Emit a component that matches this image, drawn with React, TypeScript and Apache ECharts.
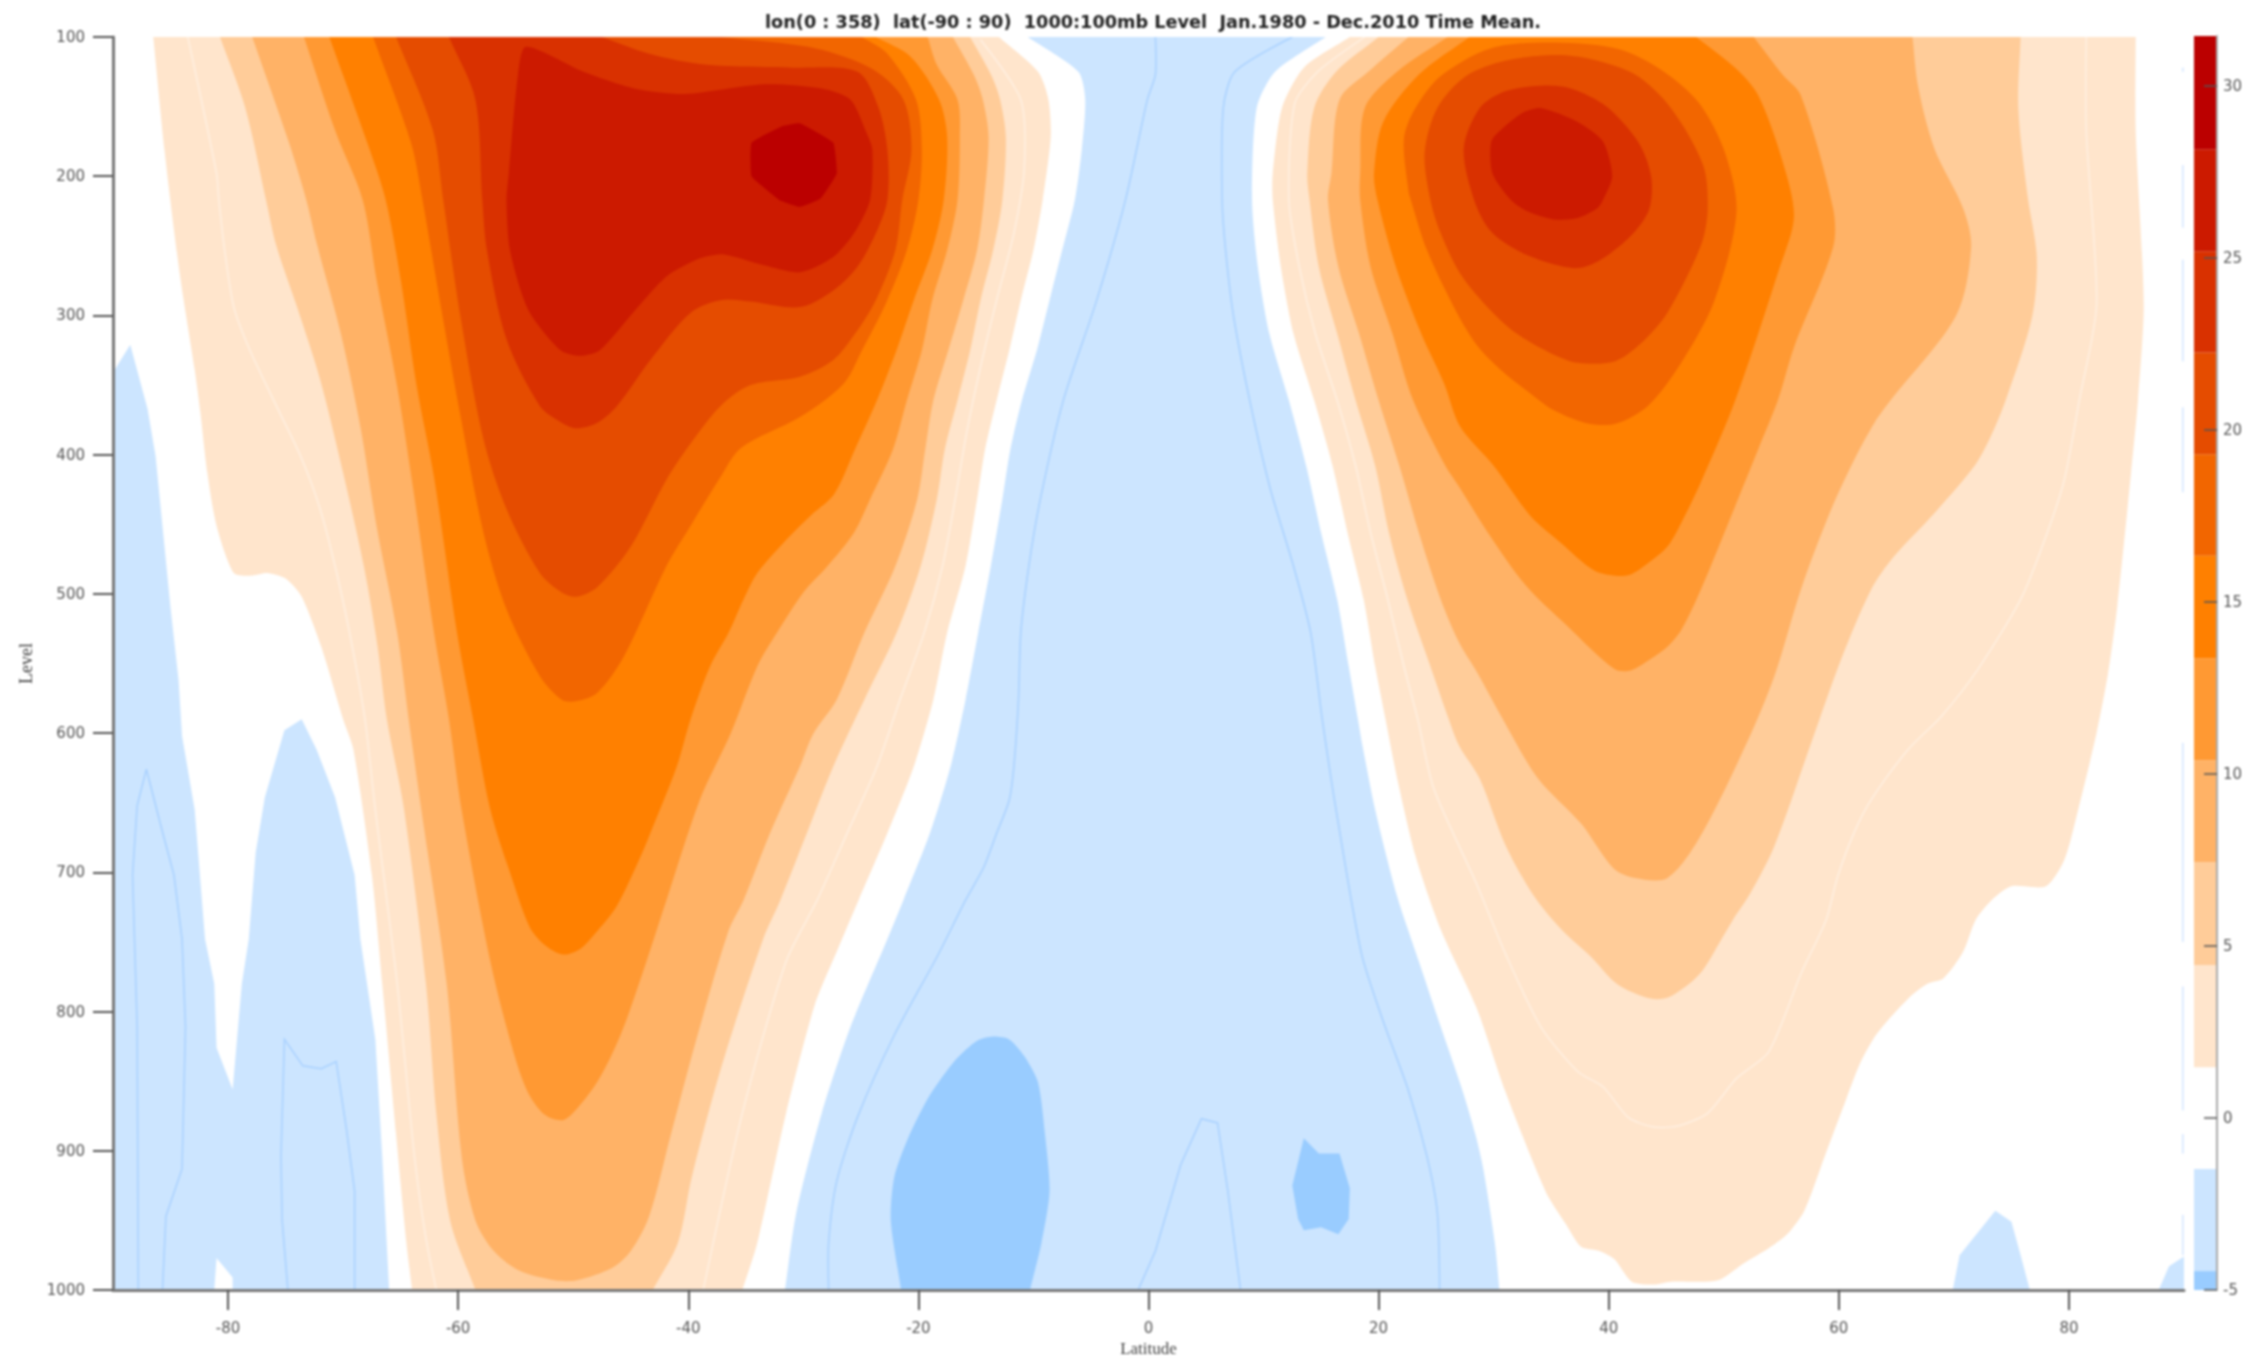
import React, { useEffect, useRef } from "react";
import * as echarts from "echarts";

type P = [number, number];

const titleText = "lon(0 : 358)  lat(-90 : 90)  1000:100mb Level  Jan.1980 - Dec.2010 Time Mean.";
const latTicks = [-80, -60, -40, -20, 0, 20, 40, 60, 80];
const levelTicks = [100, 200, 300, 400, 500, 600, 700, 800, 900, 1000];
const barTicks = [-5, 0, 5, 10, 15, 20, 25, 30];

// colour-bar classes: [lower, upper, colour]
const barBands: [number, number, string][] = [
  [-5, -4.45, "#99CCFF"], [-4.45, -1.48, "#CCE5FF"], [-1.48, 1.48, "#FFFFFF"], [1.48, 4.45, "#FFE5CC"],
  [4.45, 7.44, "#FFCC99"], [7.44, 10.4, "#FFB266"], [10.4, 13.37, "#FF9933"], [13.37, 16.35, "#FF8000"],
  [16.35, 19.3, "#F26600"], [19.3, 22.26, "#E54C00"], [22.26, 25.2, "#D93100"], [25.2, 28.17, "#CC1A00"],
  [28.17, 31.46, "#BB0000"],
];

// Contours: [latitude, level]
const s1: P[] = [[-86.5,100],[-85.5,183],[-84.2,270],[-82.9,339],[-82.4,370],[-81.8,413],[-81,451],[-79.5,485],[-78.1,487],[-76.6,485],[-75,489],[-73.6,502],[-71.9,538],[-70,590],[-69.1,612],[-67.5,702],[-66.6,780],[-65.4,888],[-64.5,966],[-64,1000],[-35.3,1000],[-34,966],[-31.5,873],[-29,795],[-27,755],[-25.2,720],[-22.7,672],[-20.4,624],[-18.7,576],[-17.5,528],[-15.9,480],[-14.9,432],[-14.2,396],[-13.2,361],[-12.1,325],[-11.1,289],[-10,253],[-9.2,217],[-8.5,172],[-8.7,145],[-9.6,125],[-13,100]];
const s4: P[] = [[-80.7,100],[-78.5,151],[-76.7,217],[-75.8,250],[-74,294],[-72,346],[-70,413],[-68.2,480],[-67,538],[-66.2,590],[-64.7,655],[-62.8,780],[-61.9,873],[-60.7,950],[-58.5,1000],[-43.1,1000],[-40.9,966],[-39.7,919],[-37.2,842],[-33.5,748],[-32,720],[-29.7,672],[-27.4,624],[-24.7,576],[-21.9,528],[-19.8,480],[-18.4,432],[-17.7,396],[-16.6,361],[-15.5,325],[-14.6,289],[-13.5,253],[-12.7,217],[-12.4,172],[-12.9,145],[-13.7,127],[-15.5,100]];
const s7: P[] = [[-77.9,100],[-74.7,176],[-73.2,217],[-72.3,248],[-70.2,313],[-68.5,380],[-67.1,451],[-65.3,528],[-64.3,590],[-63.2,655],[-61,780],[-59.7,904],[-58.5,950],[-56.9,972],[-54.7,986],[-51.6,993],[-49.7,993],[-46.6,984],[-45,972],[-43.4,947],[-41.5,888],[-39.3,820],[-36.5,742],[-35.2,720],[-32.9,672],[-30.3,624],[-29.1,600],[-27.1,576],[-24.7,528],[-22,480],[-20.1,432],[-19.4,396],[-18.7,361],[-17.4,325],[-16.1,289],[-14.9,253],[-14.3,217],[-13.9,172],[-14.4,145],[-15.2,127],[-17,100]];
const s10: P[] = [[-73.4,100],[-70.7,167],[-68.3,217],[-67.1,274],[-65.3,351],[-63.9,425],[-62.1,528],[-60.8,590],[-59.7,655],[-57.2,764],[-55.3,826],[-54,857],[-52.5,874],[-50.9,878],[-49.7,870],[-47.8,849],[-45.9,817],[-44,773],[-41.9,720],[-39,648],[-36.3,600],[-34,552],[-32.3,528],[-30,499],[-27.9,480],[-25.6,456],[-24.2,432],[-22.2,396],[-21,361],[-19.7,325],[-18.8,289],[-17.5,253],[-16.6,217],[-16.4,172],[-16.6,145],[-18.4,120],[-19.2,100]];
const s13: P[] = [[-71.2,100],[-67.9,176],[-66.3,217],[-65,274],[-63.6,351],[-62.1,416],[-60.1,528],[-58.7,590],[-57.2,655],[-55.3,705],[-53.8,739],[-52.5,752],[-50.9,759],[-49.4,755],[-48.1,744],[-46.2,724],[-44,686],[-43.3,672],[-41,624],[-39.8,590],[-38.1,552],[-36.5,528],[-35.2,504],[-34,485],[-31.7,463],[-29.4,444],[-27.3,428],[-25.5,396],[-23.6,361],[-21.9,325],[-20.4,289],[-18.8,253],[-17.8,217],[-17.5,172],[-18.2,145],[-20.7,114],[-23.7,100]];
const s16: P[] = [[-67.4,100],[-64.1,176],[-63.1,217],[-61.6,289],[-59.8,372],[-57.8,456],[-55.8,511],[-52.9,559],[-51,576],[-49.7,577],[-47.9,571],[-45.6,545],[-41.9,480],[-39.8,451],[-37.2,416],[-35.4,395],[-30.3,373],[-26.5,349],[-24.9,325],[-22.7,289],[-21,253],[-20,217],[-19.7,181],[-20.2,145],[-22.7,112],[-24.9,100]];
const s19: P[] = [[-65.4,100],[-62.2,167],[-61.3,217],[-59.8,301],[-57.8,389],[-55.8,439],[-52.9,485],[-51,499],[-49.7,502],[-47.9,495],[-45,466],[-41.9,418],[-39.8,392],[-37.2,365],[-34.6,350],[-30.3,344],[-27.4,332],[-25.5,313],[-23.7,289],[-22,253],[-21.4,217],[-20.6,181],[-21.3,145],[-24,123],[-29,108],[-37.2,100]];
const s22: P[] = [[-60.8,100],[-58.5,145],[-57.9,217],[-57.5,253],[-55.8,317],[-52.9,365],[-51,377],[-49.7,381],[-47.9,377],[-46.2,365],[-43.3,332],[-39.8,298],[-37.2,289],[-34.6,290],[-30.3,294],[-27.4,282],[-25.3,265],[-23.7,241],[-22.7,217],[-22.7,181],[-23.5,150],[-25.3,125],[-30.9,122],[-38.4,120],[-43.4,112],[-47.5,100]];
const s25: P[] = [[-54.1,107],[-54.8,127],[-55.6,198],[-55.8,217],[-55.5,253],[-53.9,296],[-51.1,325],[-49.4,329],[-47.7,325],[-44.8,298],[-41.9,272],[-39,259],[-37.2,256],[-35.9,258],[-33.4,264],[-30.3,269],[-27.4,258],[-25.6,241],[-24.2,217],[-24,181],[-24.5,169],[-25.9,145],[-28.4,137],[-33.4,134],[-40.3,141],[-44.7,137],[-49.1,125]];
const s28: P[] = [[-34.5,176],[-34.5,200],[-32.1,217],[-30.3,222],[-28.5,216],[-27.1,198],[-27.4,176],[-30.3,162],[-31.8,164]];

const n1: P[] = [[17.5,100],[13.5,122],[11.6,151],[10.8,198],[10.8,217],[11.5,265],[12.6,313],[14.4,361],[16,408],[17.3,456],[18.7,504],[19.7,552],[20.6,590],[21.6,632],[23.2,688],[25.4,741],[28.5,797],[31,857],[34.5,929],[36.3,953],[37.6,969],[39.2,972],[40.5,978],[42,994],[43.9,996],[45.4,994],[49.5,993],[51.7,981],[53.9,970],[55.5,960],[57,943],[58.9,901],[60.5,866],[61.8,838],[63.3,816],[66.1,790],[67.7,780],[69.1,776],[70.8,757],[71.9,734],[73.4,719],[75,710],[78,710],[79.6,691],[80.8,655],[82.4,600],[83.4,557],[84.2,509],[85.4,413],[86,361],[86.5,292],[85.8,167],[85.8,100]];
const n4: P[] = [[20,100],[16.3,125],[14.4,151],[13.8,198],[14,217],[14.8,265],[16.4,313],[18,361],[19.7,408],[20.9,456],[22.5,504],[24.5,552],[26.1,590],[27,609],[28.8,633],[31,680],[33.5,717],[36,742],[38.5,761],[40.4,778],[42,786],[43.9,791],[45.4,789],[47.9,773],[49.8,748],[50.8,734],[52.3,715],[54.4,681],[57.6,607],[60.2,547],[62.8,497],[64.8,473],[68.3,442],[71.8,408],[73.2,387],[74.5,361],[76.8,301],[77.2,258],[76.4,214],[75.6,151],[75.8,100]];
const n7: P[] = [[22.6,100],[19.1,125],[16.6,145],[15.9,198],[15.6,217],[16.5,265],[18.3,313],[20,361],[21.8,408],[23.5,456],[25.4,504],[27,535],[28.6,557],[30.8,590],[33.8,632],[37.6,665],[40.4,697],[42.3,704],[45.1,704],[47.9,675],[52,607],[54.4,559],[56.7,497],[59.3,440],[61.5,401],[63.1,377],[64.5,361],[70.2,300],[71.5,251],[70.8,223],[68.3,180],[66.9,136],[66.4,100]];
const n10: P[] = [[26,100],[21.6,125],[18.8,151],[18.4,198],[18.4,217],[19.3,265],[21.2,313],[23,361],[25.8,408],[27,423],[29.5,456],[32.8,494],[36.4,523],[40.5,554],[41.9,555],[43.6,547],[45.1,538],[46.3,526],[48,497],[50.3,451],[53,396],[54.7,361],[56.1,323],[59.5,251],[59.5,223],[56.7,142],[55.1,127],[52.6,100]];
const n13: P[] = [[27.9,100],[23.5,127],[20.4,161],[19.6,198],[19.9,217],[21.5,265],[23.7,313],[25.7,349],[27.1,380],[30,408],[33.2,444],[35.8,463],[38.7,483],[40.6,487],[41.9,486],[43.4,478],[45.1,466],[46.3,449],[48,420],[51,361],[54.8,267],[56.1,229],[55.1,189],[53,142],[51.1,123],[47.6,100]];
const n16: P[] = [[22.2,173],[22.6,211],[22.8,217],[24.2,253],[26.8,298],[28.6,322],[30.6,339],[33.5,358],[35.2,368],[37.9,377],[40.5,378],[43.4,365],[46.3,334],[49.2,289],[51.1,226],[50.1,183],[47.9,148],[44.8,125],[41,109],[35.4,104],[29.8,108],[25.4,128],[23.2,151]];
const n19: P[] = [[24,183],[24.5,217],[25.4,241],[27.1,270],[29.7,296],[32,313],[35.2,328],[37.3,334],[40.5,333],[42.8,320],[45.1,298],[48,250],[48.6,224],[48.2,192],[45.4,151],[42.3,127],[38.5,116],[35.4,113],[31,117],[27.6,128],[25.1,151]];
const n22: P[] = [[27.4,180],[28.3,217],[29.7,239],[32,253],[34.7,262],[37.3,266],[39.3,260],[41.9,243],[43.5,224],[43.7,201],[42.6,176],[39.8,150],[36.7,137],[34.1,135],[31,139],[28.8,151]];
const n25: P[] = [[29.8,175],[29.9,198],[31.5,217],[32.9,225],[35.2,231],[37.3,230],[39,223],[39.5,217],[40.3,200],[39.5,175],[37.3,161],[34.1,151],[32.6,154],[31,164]];

const blueCentral: P[] = [[-10.5,100],[-6.1,125],[-5.5,145],[-5.8,181],[-6.4,217],[-7.5,253],[-8.6,289],[-9.7,325],[-11,361],[-12,396],[-12.7,432],[-13.7,480],[-14.8,528],[-15.9,576],[-17.2,624],[-19,672],[-21.3,720],[-22.7,748],[-25.9,811],[-28.4,873],[-30.6,944],[-31.6,1000],[30.5,1000],[30.1,966],[29.1,913],[28.4,888],[27.3,857],[25.4,811],[23.5,764],[21.6,717],[19.7,655],[18.6,609],[18.2,590],[17.4,552],[16.4,504],[15,456],[13.7,408],[12.2,361],[10.5,313],[9.5,265],[9,217],[9.4,151],[11,125],[15.4,100]];
const bluePolar: P[] = [[-90,341],[-88.5,321],[-87,367],[-86.3,401],[-85,510],[-84.3,562],[-84,602],[-82.9,655],[-82,748],[-81.2,780],[-81,826],[-79.6,856],[-78.8,780],[-78.2,748],[-77.6,686],[-76.8,646],[-75.1,598],[-73.6,590],[-72.3,612],[-70.7,646],[-69,702],[-68.5,748],[-67.2,820],[-66.6,904],[-66,1000],[-79.6,1000],[-79.6,991],[-81,977],[-81.2,1000],[-90,1000]];
const blueArctic: P[] = [[69.9,1000],[70.5,975],[73.6,943],[75,951],[75.8,975],[76.6,1000]];
const blueCorner: P[] = [[87.8,1000],[88.7,983],[90,976],[90,1000]];
const deepBlueSouth: P[] = [[-21.5,1000],[-22.4,950],[-22.1,919],[-20.9,891],[-19,860],[-16.8,835],[-14.9,821],[-13.5,818],[-12.1,820],[-10.8,832],[-9.6,851],[-9,888],[-8.6,929],[-9.3,966],[-10.3,1000]];
const deepBlueNorth: P[] = [[13.5,891],[14.8,902],[16.6,902],[17.5,927],[17.4,949],[16.5,960],[15,955],[13.5,957],[13,949],[12.5,925]];

// Thin contour lines
const blueLineA: P[] = [[0.6,100],[0.6,127],[-0.1,145],[-2,217],[-4.5,289],[-7.4,361],[-9.4,432],[-10.4,480],[-11.1,528],[-11.3,576],[-11.7,624],[-12.1,648],[-13.2,672],[-14.3,696],[-15.9,720],[-18.4,761],[-22.1,817],[-25.3,876],[-27.1,922],[-27.8,966],[-27.8,1000]];
const blueLineB: P[] = [[12.5,100],[7.5,125],[6.5,151],[6.4,217],[6.7,253],[7.4,301],[8.9,365],[10.6,425],[12.6,480],[14.1,528],[15.1,590],[16.3,655],[18.5,758],[20.4,807],[22.6,857],[24.2,904],[25.1,944],[25.3,1000]];
const blueLineC: P[] = [[-0.9,1000],[0.6,972],[2.8,910],[4.6,877],[6,880],[6.9,929],[8,1000]];
const blueLineD: P[] = [[-87.8,1000],[-87.9,811],[-88.3,702],[-87.9,652],[-87.1,626],[-85.7,671],[-84.7,702],[-84,748],[-83.7,811],[-84,913],[-85.4,947],[-85.7,1000]];
const blueLineE: P[] = [[-74.8,1000],[-75.3,950],[-75.4,904],[-75.1,820],[-73.5,839],[-71.9,841],[-70.6,836],[-69.7,885],[-69,929],[-69,1000]];
const paleLineA: P[] = [[-83.5,100],[-81,198],[-80.8,217],[-80.3,253],[-79.5,294],[-78.1,325],[-75.8,365],[-73.7,401],[-72,439],[-70.5,487],[-69.2,538],[-68.1,590],[-67.2,655],[-65.3,780],[-63.8,904],[-62.8,963],[-61.9,1000]];
const paleLineB: P[] = [[-38.7,1000],[-35.3,873],[-31.5,764],[-28.8,720],[-26.2,672],[-23.6,624],[-21.6,576],[-19.5,528],[-17.9,480],[-16.8,432],[-15.8,384],[-14.6,337],[-13.2,289],[-11.7,241],[-10.8,195],[-11.1,145],[-14.6,102]];
const paleLineC: P[] = [[18.8,100],[14.7,125],[12.7,148],[12.2,217],[13.1,265],[14.5,313],[16.4,361],[18,408],[19.3,456],[20.8,504],[22.2,552],[23.4,590],[24.8,640],[28.5,708],[31,758],[34.1,811],[37.3,843],[39.5,854],[41.7,876],[43.9,883],[46.1,882],[48.6,873],[51.1,848],[53.9,829],[56.7,773],[58.9,734],[59.9,703],[61.3,672],[62.8,648],[66,612],[68.9,588],[72.1,554],[75.8,504],[77.9,461],[79.6,418],[80.9,361],[82.4,292],[81.5,167],[81.5,100]];
const edgeLines: P[][] = [
  [[89.9,122],[89.9,125]], [[89.9,192],[89.9,237]], [[89.9,260],[89.9,333]], [[89.9,366],[89.9,427]],
  [[89.9,607],[89.9,750]], [[89.9,782],[89.9,871]], [[89.9,888],[89.9,902]], [[89.9,946],[89.9,975]],
];

const fills: { color: string; smooth: number; polys: P[][] }[] = [
  { color: "#FFE5CC", smooth: 0.25, polys: [s1, n1] },
  { color: "#FFCC99", smooth: 0.3, polys: [s4, n4] },
  { color: "#FFB266", smooth: 0.3, polys: [s7, n7] },
  { color: "#FF9933", smooth: 0.3, polys: [s10, n10] },
  { color: "#FF8000", smooth: 0.3, polys: [s13, n13] },
  { color: "#F26600", smooth: 0.3, polys: [s16, n16] },
  { color: "#E54C00", smooth: 0.3, polys: [s19, n19] },
  { color: "#D93100", smooth: 0.3, polys: [s22, n22] },
  { color: "#CC1A00", smooth: 0.25, polys: [s25, n25] },
  { color: "#BB0000", smooth: 0.1, polys: [s28] },
  { color: "#CCE5FF", smooth: 0.25, polys: [blueCentral] },
  { color: "#CCE5FF", smooth: 0, polys: [bluePolar, blueArctic, blueCorner] },
  { color: "#99CCFF", smooth: 0.25, polys: [deepBlueSouth] },
  { color: "#99CCFF", smooth: 0, polys: [deepBlueNorth] },
];
const lines: { color: string; width: number; smooth: number; paths: P[][] }[] = [
  { color: "#A9D1FF", width: 1.5, smooth: 0.25, paths: [blueLineA, blueLineB] },
  { color: "#A9D1FF", width: 1.5, smooth: 0, paths: [blueLineC, blueLineD, blueLineE] },
  { color: "#FFF0E2", width: 1.5, smooth: 0.25, paths: [paleLineA, paleLineB, paleLineC] },
  { color: "#DDEBFF", width: 2, smooth: 0, paths: edgeLines },
];

const tickLabel = { fontFamily: "DejaVu Sans", fontSize: 15, color: "#555", formatter: (v: number) => String(v) };

// Where a contour runs along the plot's top or bottom, carry it straight on past the
// edge (the grid clips it), so that smoothing does not round the corner inside the plot.
const LEVEL_EDGES = [100, 1000];
const carryPastEdges = (pts: P[]): P[] => {
  const out: P[] = [];
  const along = (a: P, b: P) => a[1] === b[1] && LEVEL_EDGES.includes(a[1]);
  const beyond = (p: P, q: P): P => [p[0] + (p[0] - q[0]) * 0.5, p[1] + (p[1] - q[1]) * 0.5];
  pts.forEach((p, i) => {
    const prev = pts[(i + pts.length - 1) % pts.length];
    const next = pts[(i + 1) % pts.length];
    if (along(prev, p)) out.push(beyond(p, next));
    out.push(p);
    if (along(p, next)) out.push(beyond(p, prev));
  });
  return out;
};

export default function App() {
  const ref = useRef<HTMLDivElement>(null);
  useEffect(() => {
    const chart = echarts.init(ref.current!, null, { renderer: "svg" });
    const polys = fills.flatMap((f) =>
      f.polys.map((pts) => ({ pts: f.smooth > 0 ? carryPastEdges(pts) : pts, color: f.color, smooth: f.smooth }))
    );
    const paths = lines.flatMap((l) => l.paths.map((pts) => ({ pts, color: l.color, width: l.width, smooth: l.smooth })));
    chart.setOption({
      animation: false,
      backgroundColor: "#fff",
      title: {
        text: titleText,
        left: 1148,
        top: 8,
        textAlign: "center",
        textStyle: { fontFamily: "DejaVu Sans", fontWeight: "bold", fontSize: 17.7, color: "#222" },
      },
      grid: [
        { left: 113, top: 37, width: 2071, height: 1253, outerBoundsMode: "none", containLabel: false },
        { left: 2194, top: 36, width: 23, height: 1254, outerBoundsMode: "none", containLabel: false },
      ],
      xAxis: [
        {
          type: "value", gridIndex: 0, min: -90, max: 90, z: 10,
          name: "Latitude", nameLocation: "middle", nameGap: 46,
          nameTextStyle: { fontFamily: "Liberation Serif", fontSize: 17, color: "#444" },
          splitLine: { show: false },
          axisLine: { onZero: false, lineStyle: { color: "#777", width: 3 } },
          axisTick: { length: 20, inside: false, customValues: latTicks, lineStyle: { color: "#555", width: 2 } },
          axisLabel: { ...tickLabel, margin: 30, customValues: latTicks },
        },
        { type: "value", gridIndex: 1, min: 0, max: 1, show: false },
      ],
      yAxis: [
        {
          type: "value", gridIndex: 0, min: 100, max: 1000, inverse: true, z: 10,
          name: "Level", nameLocation: "middle", nameGap: 78, nameRotate: 90,
          nameTextStyle: { fontFamily: "Liberation Serif", fontSize: 18, color: "#444" },
          splitLine: { show: false },
          axisLine: { onZero: false, lineStyle: { color: "#777", width: 3 } },
          axisTick: { length: 20, customValues: levelTicks, lineStyle: { color: "#555", width: 2 } },
          axisLabel: { ...tickLabel, margin: 28, customValues: levelTicks },
        },
        {
          type: "value", gridIndex: 1, position: "right", min: -5, max: 31.46, z: 10,
          splitLine: { show: false },
          axisLine: { onZero: false, lineStyle: { color: "#aaa", width: 2 } },
          axisTick: { inside: true, length: 13, customValues: barTicks, lineStyle: { color: "#555", width: 1.5 } },
          axisLabel: { ...tickLabel, margin: 6, customValues: barTicks },
        },
      ],
      series: [
        {
          type: "custom", xAxisIndex: 0, yAxisIndex: 0, clip: true, silent: true,
          data: polys.map((_, i) => [i]),
          renderItem: (params: any, api: any) => {
            const s = polys[params.dataIndex];
            return { type: "polygon", shape: { points: s.pts.map((p) => api.coord(p)), smooth: s.smooth }, style: { fill: s.color } };
          },
        },
        {
          type: "custom", xAxisIndex: 0, yAxisIndex: 0, clip: true, silent: true,
          data: paths.map((_, i) => [i]),
          renderItem: (params: any, api: any) => {
            const s = paths[params.dataIndex];
            return {
              type: "polyline",
              shape: { points: s.pts.map((p) => api.coord(p)), smooth: s.smooth },
              style: { stroke: s.color, lineWidth: s.width, fill: "none" },
            };
          },
        },
        {
          type: "custom", xAxisIndex: 1, yAxisIndex: 1, silent: true,
          data: barBands.map((_, i) => [i]),
          renderItem: (params: any, api: any) => {
            const b = barBands[params.dataIndex];
            const a = api.coord([0, b[1]]);
            const c = api.coord([1, b[0]]);
            return { type: "rect", shape: { x: a[0], y: a[1], width: c[0] - a[0], height: c[1] - a[1] }, style: { fill: b[2] } };
          },
        },
      ],
    });
    return () => chart.dispose();
  }, []);
  return (
    <div
      ref={ref}
      style={{ position: "fixed", left: 0, top: 0, width: 2259, height: 1357, filter: "blur(0.8px)" }}
    />
  );
}
